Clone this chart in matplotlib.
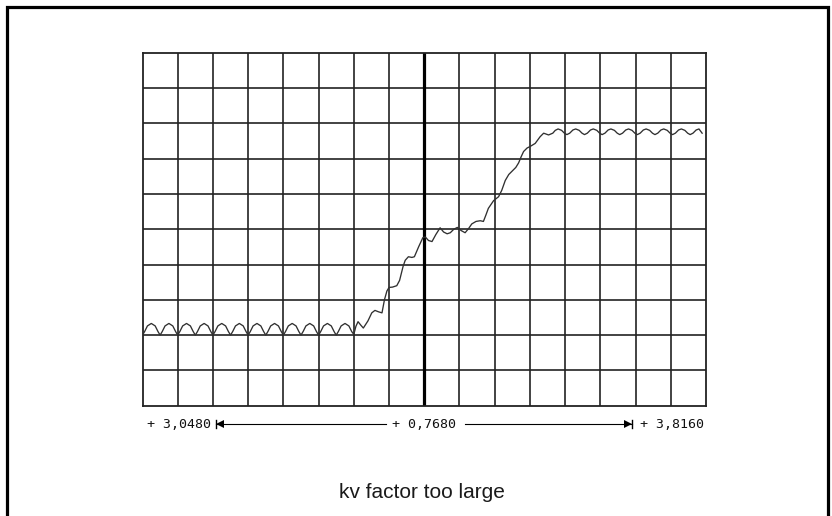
import matplotlib.pyplot as plt

# signal trace (grid units: 16 x 10 divisions)
sig_x = [
    0.00, 0.06, 0.14, 0.25, 0.36, 0.44,
    0.50, 0.56, 0.64, 0.75, 0.86, 0.94,
    1.00, 1.06, 1.14, 1.25, 1.36, 1.44,
    1.50, 1.56, 1.64, 1.75, 1.86, 1.94,
    2.00, 2.06, 2.14, 2.25, 2.36, 2.44,
    2.50, 2.56, 2.64, 2.75, 2.86, 2.94,
    3.00, 3.06, 3.14, 3.25, 3.36, 3.44,
    3.50, 3.56, 3.64, 3.75, 3.86, 3.94,
    4.00, 4.06, 4.14, 4.25, 4.36, 4.44,
    4.50, 4.56, 4.64, 4.75, 4.86, 4.94,
    5.00, 5.06, 5.14, 5.25, 5.36, 5.44,
    5.50, 5.56, 5.64, 5.75, 5.86, 5.94,
    6.00, 6.06, 6.12, 6.20, 6.27, 6.40, 6.51, 6.60, 6.70, 6.80,
    6.87, 6.94, 7.00, 7.10, 7.22, 7.30, 7.40, 7.46, 7.55, 7.65,
    7.72, 7.84, 7.96, 8.03, 8.12, 8.22, 8.33, 8.45, 8.55, 8.65,
    8.74, 8.84, 8.94, 9.05, 9.16, 9.26, 9.35, 9.47, 9.59, 9.68,
    9.75, 9.82, 9.97, 10.11, 10.20, 10.30, 10.40, 10.53, 10.60, 10.68,
    10.75, 10.82, 10.92, 11.00, 11.15, 11.29, 11.39, 11.53, 11.65,
    11.72, 11.80, 11.90, 11.98, 12.05,
    12.13, 12.22, 12.30, 12.40, 12.48, 12.55,
    12.63, 12.72, 12.80, 12.90, 12.98, 13.05,
    13.13, 13.22, 13.30, 13.40, 13.48, 13.55,
    13.63, 13.72, 13.80, 13.90, 13.98, 14.05,
    14.13, 14.22, 14.30, 14.40, 14.48, 14.55,
    14.63, 14.72, 14.80, 14.90, 14.98, 15.05,
    15.13, 15.22, 15.30, 15.40, 15.48, 15.55,
    15.63, 15.72, 15.80, 15.89,
]
sig_y = [
    2.00, 2.10, 2.26, 2.33, 2.26, 2.10,
    2.00, 2.10, 2.26, 2.33, 2.26, 2.10,
    2.00, 2.10, 2.26, 2.33, 2.26, 2.10,
    2.00, 2.10, 2.26, 2.33, 2.26, 2.10,
    2.00, 2.10, 2.26, 2.33, 2.26, 2.10,
    2.00, 2.10, 2.26, 2.33, 2.26, 2.10,
    2.00, 2.10, 2.26, 2.33, 2.26, 2.10,
    2.00, 2.10, 2.26, 2.33, 2.26, 2.10,
    2.00, 2.10, 2.26, 2.33, 2.26, 2.10,
    2.00, 2.10, 2.26, 2.33, 2.26, 2.10,
    2.00, 2.10, 2.26, 2.33, 2.26, 2.10,
    2.00, 2.10, 2.26, 2.33, 2.26, 2.10,
    2.02, 2.25, 2.38, 2.28, 2.20, 2.40, 2.63, 2.70, 2.66, 2.63,
    3.00, 3.25, 3.35, 3.36, 3.40, 3.55, 3.95, 4.12, 4.22, 4.20,
    4.22, 4.50, 4.76, 4.78, 4.68, 4.65, 4.85, 5.04, 4.92, 4.87,
    4.90, 5.00, 5.05, 4.96, 4.90, 5.02, 5.15, 5.22, 5.24, 5.22,
    5.40, 5.59, 5.81, 5.92, 6.10, 6.38, 6.55, 6.68, 6.75, 6.88,
    7.05, 7.20, 7.30, 7.34, 7.43, 7.62, 7.72, 7.67, 7.72,
    7.80, 7.84, 7.80, 7.72, 7.68,
    7.72, 7.81, 7.84, 7.80, 7.72, 7.68,
    7.72, 7.81, 7.84, 7.80, 7.72, 7.68,
    7.72, 7.81, 7.84, 7.80, 7.72, 7.68,
    7.72, 7.81, 7.84, 7.80, 7.72, 7.68,
    7.72, 7.81, 7.84, 7.80, 7.72, 7.68,
    7.72, 7.81, 7.84, 7.80, 7.72, 7.68,
    7.72, 7.81, 7.84, 7.80, 7.72, 7.68,
    7.72, 7.81, 7.84, 7.72,
]

left_label = "+ 3,0480"
mid_label = "+ 0,7680"
right_label = "+ 3,8160"
caption = "kv factor too large"

W, H = 832, 516
fig = plt.figure(figsize=(W / 100, H / 100), dpi=100)

# overlay in pixel coordinates for frame, arrows and text
ov = fig.add_axes([0, 0, 1, 1])
ov.set_xlim(0, W)
ov.set_ylim(H, 0)
ov.axis("off")

ov.plot([6.5, 6.5, 828, 828], [H + 5, 7, 7, H + 5], color="black", lw=2.3,
        solid_joinstyle="miter", clip_on=False)

# scope grid
gx0, gx1, gy0, gy1 = 142.5, 706, 52.7, 405.7
ax = fig.add_axes([gx0 / W, (H - gy1) / H, (gx1 - gx0) / W, (gy1 - gy0) / H])
ax.set_xlim(0, 16)
ax.set_ylim(0, 10)
for i in range(1, 16):
    ax.axvline(i, color="#222222", lw=1.2, zorder=1)
for j in range(1, 10):
    ax.axhline(j, color="#222222", lw=1.2, zorder=1)
ax.axvline(8, color="black", lw=2.3, zorder=2)
for s in ax.spines.values():
    s.set_color("#222222")
    s.set_linewidth(1.3)
ax.set_xticks([])
ax.set_yticks([])
ax.plot(sig_x, sig_y, color="#303030", lw=0.95, zorder=3)

# measurement bar under the grid
ty = 424
mono = dict(family="DejaVu Sans Mono", fontsize=9.5, color="#111111", va="center")
ov.text(211, ty, left_label, ha="right", **mono)
ov.text(424.5, ty, mid_label, ha="center", **mono)
ov.text(640, ty, right_label, ha="left", **mono)

ov.plot([216, 386], [ty, ty], color="black", lw=0.8)
ov.plot([216, 216], [ty - 4, ty + 4], color="black", lw=1.0)
ov.plot([220], [ty], marker="<", color="black", ms=6, markeredgewidth=0)
ov.plot([465, 632], [ty, ty], color="black", lw=0.8)
ov.plot([632, 632], [ty - 4, ty + 4], color="black", lw=1.0)
ov.plot([628], [ty], marker=">", color="black", ms=6, markeredgewidth=0)

ov.text(422, 492, caption, ha="center", va="center",
        family="Liberation Sans", fontsize=15, color="#1a1a1a")

fig.savefig("out.png", dpi=100)
